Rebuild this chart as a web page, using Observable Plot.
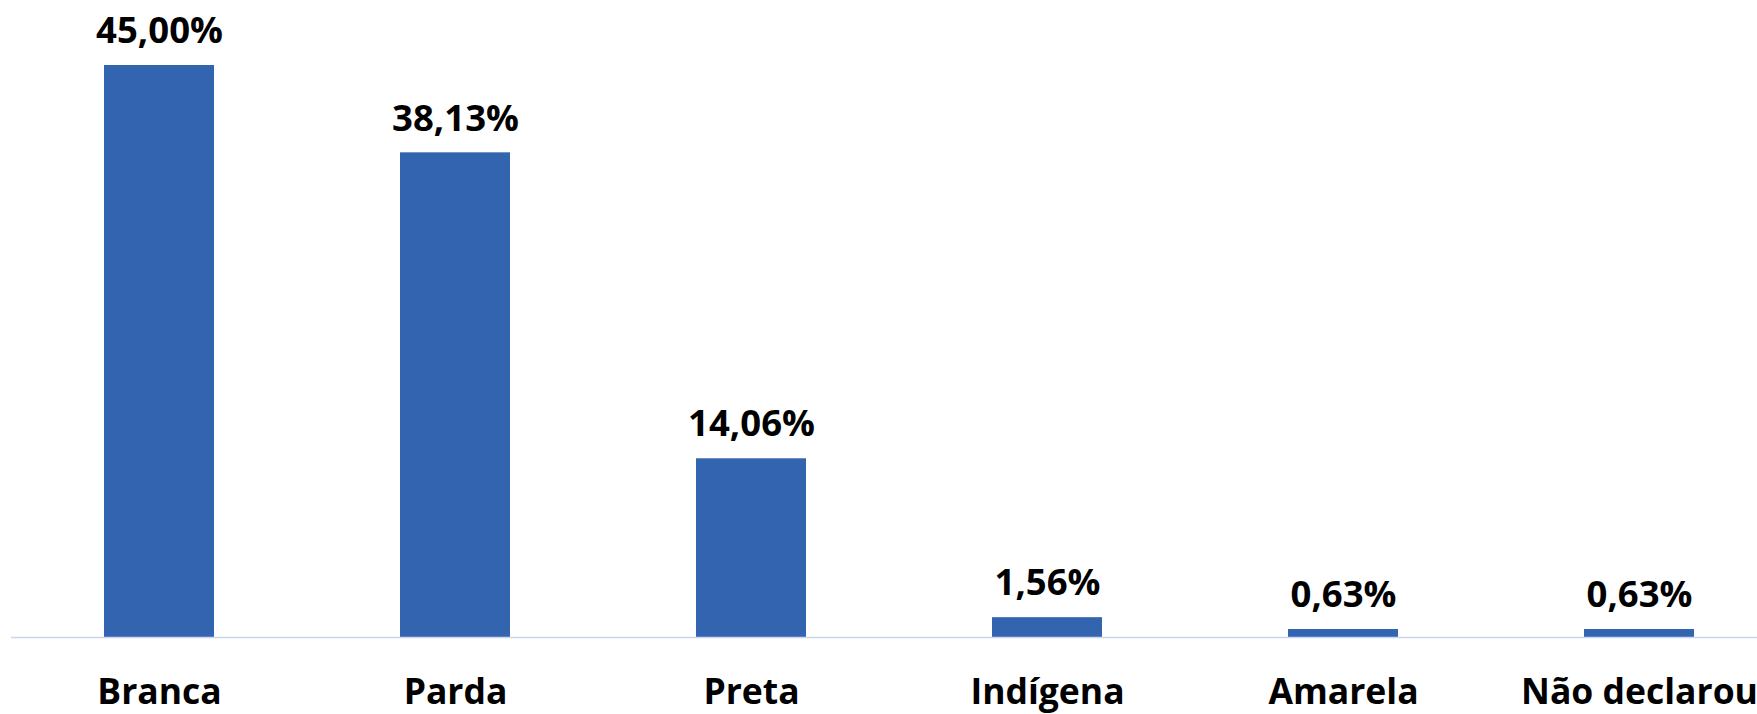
<!DOCTYPE html>
<html>
<head>
<meta charset="utf-8">
<script src="https://cdn.jsdelivr.net/npm/d3@7"></script>
<script src="https://cdn.jsdelivr.net/npm/@observablehq/plot@0.6"></script>
<style>
  html, body { margin: 0; padding: 0; background: #ffffff; overflow: hidden; }
  #chart svg { overflow: hidden; display: block; }
</style>
</head>
<body>
<div id="chart"></div>
<script>
// Categories and values (percentages)
const categories = ["Branca", "Parda", "Preta", "Indígena", "Amarela", "Não declarou"];
const values = [45.00, 38.13, 14.06, 1.56, 0.63, 0.63];

const data = categories.map((c, i) => ({
  category: c,
  value: values[i],
  label: values[i].toFixed(2).replace(".", ",") + "%"
}));

const font = "'Open Sans', 'DejaVu Sans', sans-serif";

const chart = Plot.plot({
  width: 1757,
  height: 714,
  marginTop: 65,
  marginBottom: 77,
  marginLeft: 11,
  marginRight: 0,
  style: { fontFamily: font, color: "#000000", background: "#ffffff" },
  x: {
    domain: categories,
    range: [11, 1787],
    paddingInner: 0.628,
    paddingOuter: 0.314,
    label: null
  },
  y: { domain: [0, 45], axis: null },
  marks: [
    Plot.barY(data, { x: "category", y: "value", fill: "#3364AF" }),
    Plot.ruleY([0], { stroke: "#c9d6ee", strokeWidth: 1.5 }),
    Plot.text(data, {
      x: "category",
      y: "value",
      text: "label",
      dy: -34,
      fontSize: 36.5,
      fontWeight: "bold",
      fill: "#000000"
    }),
    Plot.axisX({
      tickSize: 0,
      tickPadding: 41,
      fontSize: 35.5,
      fontWeight: "bold",
      fill: "#000000",
      label: null
    })
  ]
});

document.getElementById("chart").appendChild(chart);
</script>
</body>
</html>
